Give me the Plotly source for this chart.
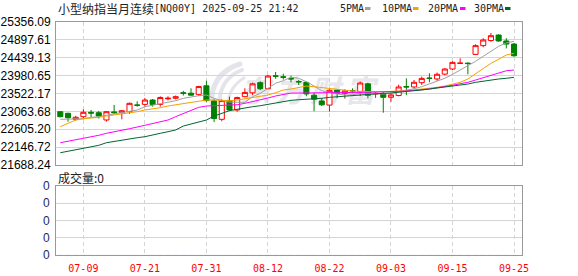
import base64
import plotly.graph_objects as go

# ---------------- data ----------------
dates = ["07-03", "07-07", "07-08", "07-09", "07-10", "07-11", "07-14", "07-15", "07-16", "07-17",
         "07-18", "07-21", "07-22", "07-23", "07-24", "07-25", "07-28", "07-29", "07-30", "07-31",
         "08-01", "08-04", "08-05", "08-06", "08-07", "08-08", "08-11", "08-12", "08-13", "08-14",
         "08-15", "08-18", "08-19", "08-20", "08-21", "08-22", "08-25", "08-26", "08-27", "08-28",
         "08-29", "09-01", "09-02", "09-03", "09-04", "09-05", "09-08", "09-09", "09-10", "09-11",
         "09-12", "09-15", "09-16", "09-17", "09-18", "09-19", "09-22", "09-23", "09-24", "09-25"]

open_ = [23055, 23014, 22860, 22927, 23040, 23030, 22843, 23050, 23030, 23055,
         23228, 23243, 23355, 23243, 23385, 23400, 23540, 23530, 23500, 23720,
         23330, 22860, 23340, 23100, 23440, 23540, 23800, 23645, 23975, 23950,
         23910, 23830, 23805, 23478, 23330, 23225, 23610, 23525, 23600, 23565,
         23770, 23510, 23510, 23425, 23470, 23700, 23690, 23800, 23920, 23895,
         24020, 24150, 24295, 24300, 24525, 24750, 24880, 25022, 24870, 24790]
high = [23073, 23030, 22950, 23117, 23100, 23075, 23073, 23227, 23095, 23290,
        23322, 23410, 23380, 23450, 23450, 23470, 23590, 23655, 23720, 23850,
        23373, 23375, 23440, 23440, 23655, 23800, 23835, 24000, 24075, 24030,
        23980, 23870, 23830, 23540, 23400, 23630, 23630, 23630, 23655, 23830,
        23800, 23560, 23560, 23525, 23750, 23910, 23870, 23955, 24040, 24060,
        24175, 24350, 24425, 24320, 24785, 24940, 25075, 25040, 24940, 24820]
low = [22912, 22799, 22830, 22860, 22912, 22880, 22800, 23000, 22860, 23000,
       23185, 23185, 23185, 23185, 23345, 23370, 23470, 23470, 23460, 23310,
       22790, 22810, 23075, 23055, 23425, 23480, 23610, 23630, 23900, 23880,
       23810, 23740, 23450, 23068, 23200, 23060, 23400, 23390, 23525, 23460,
       23400, 23410, 23030, 23310, 23450, 23480, 23655, 23740, 23810, 23845,
       23990, 24120, 24290, 24015, 24510, 24710, 24850, 24850, 24680, 24465]
close = [22927, 22901, 22912, 23040, 23020, 22945, 23055, 23030, 23081, 23270,
         23220, 23355, 23243, 23420, 23400, 23440, 23530, 23480, 23700, 23340,
         22880, 23340, 23100, 23418, 23550, 23770, 23645, 23970, 23965, 23940,
         23895, 23820, 23510, 23376, 23232, 23605, 23525, 23590, 23590, 23792,
         23478, 23525, 23425, 23485, 23690, 23690, 23810, 23910, 23910, 24015,
         24150, 24320, 24300, 24290, 24750, 24895, 25005, 24870, 24790, 24490]

ma5 = [22860, 22860, 22860, 22875, 22911, 22927, 22963, 22996, 23029, 23055,
       23099, 23183, 23219, 23252, 23296, 23337, 23399, 23440, 23465, 23483,
       23399, 23337, 23304, 23296, 23296, 23440, 23527, 23655, 23785, 23850,
       23940, 23912, 23824, 23714, 23594, 23542, 23509, 23483, 23491, 23527,
       23527, 23509, 23509, 23527, 23560, 23594, 23645, 23696, 23765, 23824,
       23912, 24012, 24124, 24227, 24348, 24476, 24604, 24732, 24820, 24861]
ma10 = [22670, 22757, 22842, 22875, 22886, 22911, 22945, 22970, 22988, 23029,
        23055, 23099, 23124, 23158, 23201, 23234, 23270, 23296, 23329, 23355,
        23355, 23337, 23337, 23355, 23388, 23406, 23440, 23483, 23542, 23612,
        23637, 23681, 23714, 23696, 23671, 23645, 23629, 23604, 23586, 23578,
        23568, 23568, 23568, 23568, 23586, 23594, 23612, 23629, 23645, 23681,
        23714, 23765, 23809, 23894, 24036, 24164, 24293, 24395, 24509, 24553]
ma20 = [22260, 22296, 22329, 22373, 22414, 22450, 22501, 22534, 22578, 22619,
        22662, 22706, 22757, 22798, 22842, 22927, 23014, 23091, 23168, 23201,
        23209, 23209, 23219, 23234, 23270, 23311, 23355, 23406, 23458, 23491,
        23535, 23535, 23535, 23535, 23535, 23535, 23542, 23542, 23542, 23552,
        23552, 23560, 23560, 23568, 23578, 23586, 23604, 23612, 23637, 23671,
        23696, 23732, 23773, 23809, 23868, 23927, 23996, 24055, 24106, 24124]
ma30 = [22003, 22039, 22073, 22116, 22157, 22193, 22260, 22296, 22321, 22355,
        22388, 22414, 22450, 22501, 22542, 22586, 22688, 22739, 22791, 22842,
        22945, 23014, 23081, 23117, 23158, 23183, 23209, 23245, 23286, 23311,
        23347, 23363, 23373, 23388, 23399, 23424, 23440, 23458, 23476, 23491,
        23501, 23509, 23527, 23535, 23560, 23578, 23594, 23612, 23637, 23655,
        23681, 23714, 23740, 23765, 23809, 23842, 23868, 23894, 23912, 23937]
volume = [0] * 60

price_ticks = [21688.24, 22146.72, 22605.20, 23063.68, 23522.17,
               23980.65, 24439.13, 24897.61, 25356.09]
date_ticks = ["07-09", "07-21", "07-31", "08-12", "08-22", "09-03", "09-15", "09-25"]
vol_ticks = [0, 0.25, 0.5, 0.75, 1]
vol_tick_text = ["0", "0", "0", "0", "0"]

title_cn = "小型纳指当月连续"
title_rest = "[NQ00Y] 2025-09-25 21:42"
legend_items = [("5PMA", "#a0a0a0"), ("10PMA", "#f5a200"), ("20PMA", "#ff00ff"), ("30PMA", "#006633")]
vol_label = "成交量:0"
watermark = "东方财富"

# ---------------- layout geometry (pixels) ----------------
W, H = 578, 276
L, R, T, B = 56, 56, 22, 21
PW, PH = W - L - R, H - T - B


def px(x):
    return (x - L) / PW


def py(y):
    return (H - B - y) / PH


price_dom = [py(165), 1.0]
vol_dom = [0.0, py(186)]
xr = [-0.56, 60.04]

ma_series = [ma5, ma10, ma20, ma30]

fig = go.Figure()
fig.add_trace(go.Candlestick(
    x=dates, open=open_, high=high, low=low, close=close,
    increasing=dict(line=dict(color="#ff0000", width=1), fillcolor="#ffffff"),
    decreasing=dict(line=dict(color="#008000", width=1), fillcolor="#008000"),
    whiskerwidth=0, hoverinfo="skip", showlegend=False,
    xaxis="x", yaxis="y"))
for (name, col), vals in zip(legend_items, ma_series):
    fig.add_trace(go.Scatter(x=dates, y=vals, mode="lines", name=name,
                             line=dict(color=col, width=1), hoverinfo="skip",
                             showlegend=False, xaxis="x", yaxis="y"))
fig.add_trace(go.Bar(x=dates, y=volume, marker_color="#008000", showlegend=False,
                     hoverinfo="skip", xaxis="x2", yaxis="y2"))

grid = "#d4d4d4"
border = "#999999"
axis_common = dict(showline=True, mirror=True, linecolor=border, linewidth=1,
                   zeroline=False, ticks="", fixedrange=True, automargin=False)

fig.update_layout(
    width=W, height=H,
    margin=dict(l=L, r=R, t=T, b=B, pad=0, autoexpand=False),
    paper_bgcolor="#ffffff", plot_bgcolor="rgba(0,0,0,0)",
    boxgap=0.34, boxgroupgap=0,
    showlegend=False,
    xaxis=dict(type="category", domain=[0, 1], range=xr, anchor="y",
               tickmode="array", tickvals=date_ticks, showticklabels=False,
               showgrid=True, gridcolor=grid, griddash="4px,3px", gridwidth=1,
               rangeslider=dict(visible=False), **axis_common),
    yaxis=dict(domain=price_dom, range=[price_ticks[0], price_ticks[-1]], anchor="x",
               tickmode="array", tickvals=price_ticks,
               ticktext=[f"{v:.2f}" for v in price_ticks],
               showgrid=True, gridcolor=grid, gridwidth=1,
               tickfont=dict(family="Liberation Sans, Arial", size=12, color="#000000"),
               ticklabelstandoff=2, **axis_common),
    xaxis2=dict(type="category", domain=[0, 1], range=xr, anchor="y2", matches="x",
                tickmode="array", tickvals=date_ticks, ticktext=date_ticks,
                showgrid=True, gridcolor=grid, griddash="4px,3px", gridwidth=1,
                tickfont=dict(family="DejaVu Sans Mono", size=10, color="#ff0000"),
                ticklabelstandoff=4, **axis_common),
    yaxis2=dict(domain=vol_dom, range=[0, 1], anchor="x2",
                tickmode="array", tickvals=vol_ticks, ticktext=vol_tick_text,
                showgrid=True, gridcolor=grid, gridwidth=1,
                tickfont=dict(family="Liberation Sans, Arial", size=12, color="#1c2a66"),
                ticklabelstandoff=3, **axis_common),
)

ann = []
ann.append(dict(text=title_cn, x=px(56), y=py(8.5), xref="paper", yref="paper",
                xanchor="left", yanchor="middle", showarrow=False,
                font=dict(family="Noto Sans CJK SC", size=12, color="#222222")))
ann.append(dict(text=title_rest, x=px(152), y=py(8.5), xref="paper", yref="paper",
                xanchor="left", yanchor="middle", showarrow=False,
                font=dict(family="DejaVu Sans Mono", size=10, color="#222222")))
ann.append(dict(text=vol_label, x=px(56), y=py(177.5), xref="paper", yref="paper",
                xanchor="left", yanchor="middle", showarrow=False,
                font=dict(family="Noto Sans CJK SC", size=12, color="#222222")))

legend_text_x = [338, 380, 426, 472]
swatch_x = [365, 413, 460, 505]
shapes = []
for (name, col), tx, sx in zip(legend_items, legend_text_x, swatch_x):
    ann.append(dict(text=name, x=px(tx), y=py(8.5), xref="paper", yref="paper",
                    xanchor="left", yanchor="middle", showarrow=False,
                    font=dict(family="DejaVu Sans Mono", size=10, color="#222222")))
    shapes.append(dict(type="rect", xref="paper", yref="paper",
                       x0=px(sx), x1=px(sx + 5.5), y0=py(10), y1=py(7),
                       fillcolor=col, line=dict(width=0)))

# faint background watermark
svg = (
    '<svg xmlns="http://www.w3.org/2000/svg" width="176" height="52" viewBox="0 0 176 52">'
    '<g fill="none" stroke="#e4e4ea" stroke-linecap="round">'
    '<path d="M6 44 C 4 26, 14 10, 34 4" stroke-width="5"/>'
    '<path d="M14 46 C 12 30, 20 16, 36 10" stroke-width="4"/>'
    '<path d="M22 46 C 22 34, 28 24, 38 18" stroke-width="3"/>'
    '</g>'
    '<text x="34" y="42" font-family="Noto Sans CJK SC" font-size="30" font-weight="bold" '
    'font-style="italic" letter-spacing="5" fill="#e6e6ec">' + watermark + '</text>'
    '</svg>'
)
src = "data:image/svg+xml;base64," + base64.b64encode(svg.encode("utf-8")).decode("ascii")
fig.update_layout(
    annotations=ann, shapes=shapes,
    images=[dict(source=src, xref="paper", yref="paper", x=px(206), y=py(60),
                 sizex=176 / PW, sizey=52 / PH, xanchor="left", yanchor="top",
                 sizing="stretch", layer="below")],
)

fig.write_html("out.html", config={"displayModeBar": False, "staticPlot": True})
